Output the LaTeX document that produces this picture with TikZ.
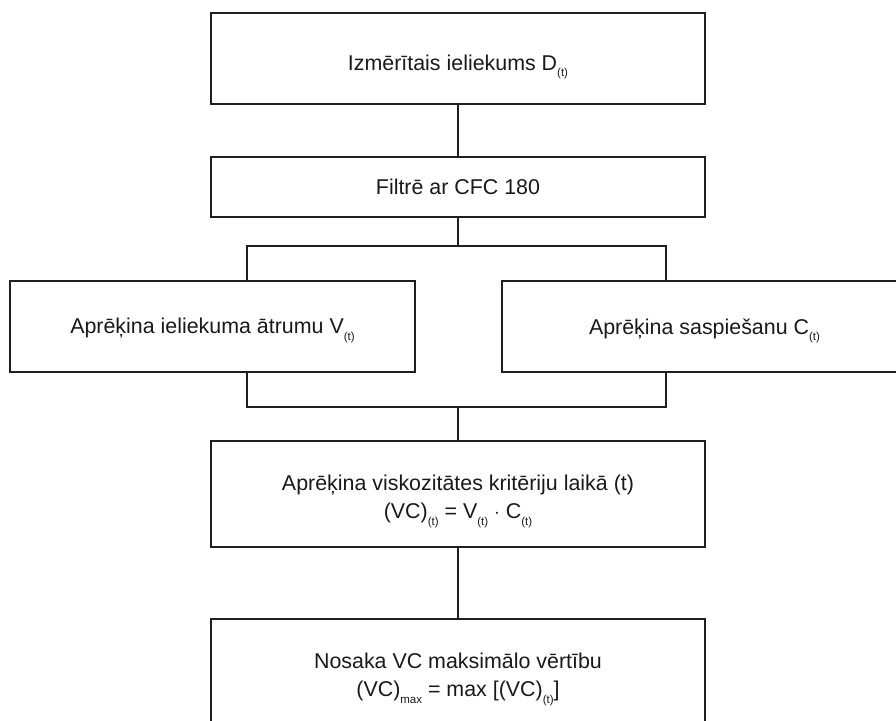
\documentclass[tikz,border=0pt]{standalone}
\usepackage{fontspec}
\setmainfont{Liberation Sans}
\newcommand\lsub[1]{\raisebox{-6.5pt}[0pt][0pt]{\fontsize{11.5}{11.5}\selectfont #1}}
\tikzset{
  box/.style={draw=black!88, line width=1.8pt, rectangle, inner sep=0pt},
  txt/.style={inner sep=0pt, align=center, text=black!90, font=\fontsize{21.4}{28}\selectfont},
  conn/.style={draw=black!88, line width=1.8pt}
}
\begin{document}
\begin{tikzpicture}[x=1pt,y=-1pt]
\useasboundingbox (0,0) rectangle (896,720);
\clip (0,0) rectangle (896,720);
\node[box, minimum width=494pt, minimum height=91pt] (b1) at (458,58.5) {};
\node[box, minimum width=494pt, minimum height=60pt] (b2) at (458,187) {};
\node[box, minimum width=405pt, minimum height=91pt] (b3) at (212.5,326.5) {};
\node[box, minimum width=405pt, minimum height=91pt] (b4) at (704.5,326.5) {};
\node[box, minimum width=494pt, minimum height=106pt] (b5) at (458,494) {};
\node[box, minimum width=494pt, minimum height=106pt] (b6) at (458,672) {};
\node[txt] (t1) at ([yshift=-4pt]b1.center) {Izmērītais ieliekums D\lsub{(t)}};
\node[txt] (t2) at (b2.center) {Filtrē ar CFC 180};
\node[txt] (t3) at ([yshift=-2pt]b3.center) {Aprēķina ieliekuma ātrumu V\lsub{(t)}};
\node[txt] (t4) at ([yshift=-2pt]b4.center) {Aprēķina saspiešanu C\lsub{(t)}};
\node[txt] (t5) at ([yshift=-5pt]b5.center) {Aprēķina viskozitātes kritēriju laikā (t)\\(VC)\lsub{(t)} = V\lsub{(t)} $\cdot$ C\lsub{(t)}};
\node[txt] (t6) at ([yshift=-5pt]b6.center) {Nosaka VC maksimālo vērtību\\(VC)\lsub{max} = max [(VC)\lsub{(t)}]};
\coordinate (splitL) at (247,246);
\coordinate (splitR) at (666,246);
\coordinate (joinL) at (247,407);
\coordinate (joinR) at (666,407);
\draw[conn] (b1.south) -- (b2.north);
\draw[conn] (b2.south) -- (b2.south |- splitL);
\draw[conn] (b3.north -| splitL) -- (splitL) -- (splitR) -- (b4.north -| splitR);
\draw[conn] (b3.south -| joinL) -- (joinL) -- (joinR) -- (b4.south -| joinR);
\draw[conn] (b5.north |- joinL) -- (b5.north);
\draw[conn] (b5.south) -- (b6.north);
\end{tikzpicture}
\end{document}
